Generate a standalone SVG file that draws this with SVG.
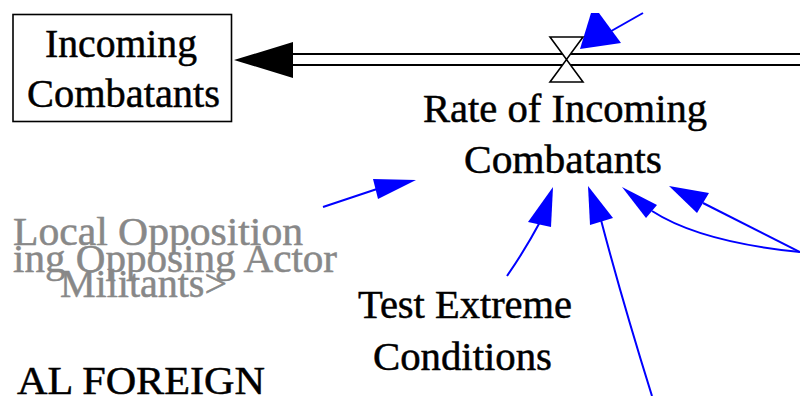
<svg xmlns="http://www.w3.org/2000/svg" width="800" height="396" viewBox="0 0 800 396">
<style>
text{font-family:'Liberation Serif','Times New Roman',serif;font-size:40px;fill:#000;stroke:#000;stroke-width:0.5}
.ghost{fill:#888;stroke:#888}
.link{fill:none;stroke:#0000ff;stroke-width:2}
.head{fill:#0000ff;stroke:none}
.pipe{stroke:#000;stroke-width:2.2;fill:none}
</style>
<rect width="800" height="396" fill="#fff"/>
<g id="connectors">
  <line class="pipe" x1="290" y1="54" x2="800" y2="54"/>
  <line class="pipe" x1="290" y1="65" x2="800" y2="65"/>
  <polygon points="234,60 293,42 293,78" fill="#000"/>
  <line class="link" x1="643" y1="13" x2="606" y2="34"/>
  <polygon class="head" points="580,49 591,13 599,13 621,43"/>
  <line class="link" x1="323" y1="207" x2="377" y2="189"/>
  <polygon class="head" points="416,180 373,179 378,199"/>
  <path class="link" d="M507,276 Q525,250 540,222"/>
  <polygon class="head" points="553,187 528,222 551,227"/>
  <path class="link" d="M652,396 Q622,300 601,220"/>
  <polygon class="head" points="588,186 590,225 613,218"/>
  <path class="link" d="M800,252 Q700,242 652,211"/>
  <polygon class="head" points="622,187 646,218 657,205"/>
  <line class="link" x1="800" y1="252" x2="703" y2="203"/>
  <polygon class="head" points="669,186 697,213 709,193"/>
</g>
<g id="incoming-combatants">
  <rect x="13" y="14.5" width="218.5" height="107" fill="#fff" stroke="#000" stroke-width="1.6"/>
  <text x="45" y="57" textLength="152" lengthAdjust="spacingAndGlyphs">Incoming</text>
  <text x="27" y="107" textLength="193" lengthAdjust="spacingAndGlyphs">Combatants</text>
</g>
<g id="rate-valve">
  <polygon points="550,37 583,37 566.5,59.5" fill="#fff" stroke="#000" stroke-width="1.6"/>
  <polygon points="550,82 583,82 566.5,59.5" fill="#fff" stroke="#000" stroke-width="1.6"/>
</g>
<g id="rate-of-incoming-combatants">
  <text x="423" y="122" textLength="284" lengthAdjust="spacingAndGlyphs">Rate of Incoming</text>
  <text x="464" y="173" textLength="198" lengthAdjust="spacingAndGlyphs">Combatants</text>
</g>
<g id="test-extreme-conditions">
  <text x="358" y="318" textLength="214" lengthAdjust="spacingAndGlyphs">Test Extreme</text>
  <text x="373" y="370" textLength="179" lengthAdjust="spacingAndGlyphs">Conditions</text>
</g>
<g id="local-opposition-ghost">
  <text class="ghost" x="13" y="245" textLength="290" lengthAdjust="spacingAndGlyphs">Local Opposition</text>
  <text class="ghost" x="13" y="272" textLength="324" lengthAdjust="spacingAndGlyphs">ing Opposing Actor</text>
  <text class="ghost" x="60" y="297" textLength="167" lengthAdjust="spacingAndGlyphs">Militants&gt;</text>
</g>
<g id="local-foreign">
  <text x="17" y="394" textLength="248" lengthAdjust="spacingAndGlyphs">AL FOREIGN</text>
</g>
</svg>
